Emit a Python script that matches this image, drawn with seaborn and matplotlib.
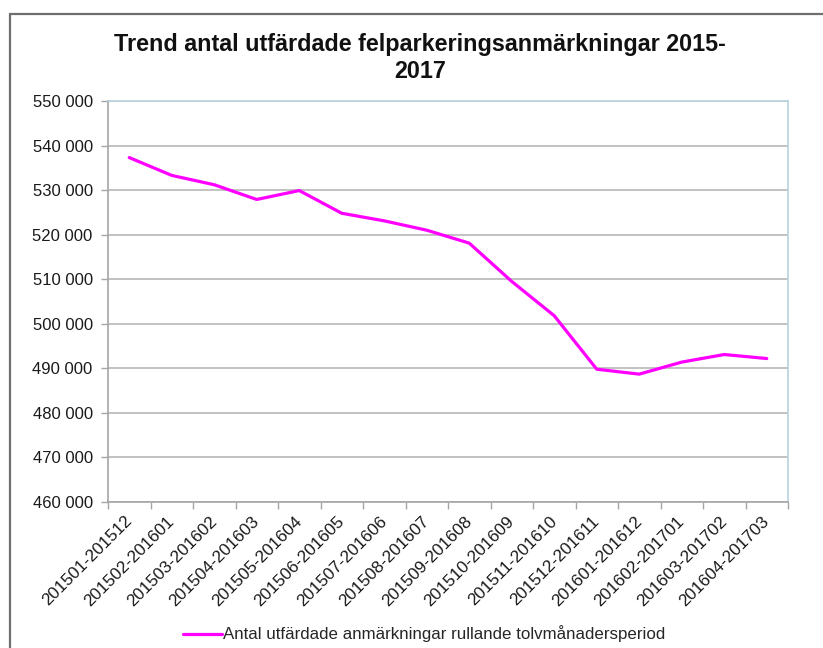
import matplotlib
matplotlib.use("Agg")
import matplotlib.pyplot as plt
from matplotlib.patches import Rectangle
from matplotlib.ticker import FuncFormatter, MultipleLocator
import pandas as pd
import seaborn as sns

periods = [
    "201501-201512", "201502-201601", "201503-201602", "201504-201603",
    "201505-201604", "201506-201605", "201507-201606", "201508-201607",
    "201509-201608", "201510-201609", "201511-201610", "201512-201611",
    "201601-201612", "201602-201701", "201603-201702", "201604-201703",
]
remarks = [
    537300, 533300, 531200, 527900, 529900, 524800, 523100, 521000,
    518100, 509500, 501800, 489800, 488700, 491400, 493100, 492200,
]
series_name = "Antal utfärdade anmärkningar rullande tolvmånadersperiod"
title = "Trend antal utfärdade felparkeringsanmärkningar 2015-\n2017"

sns.set_theme(style="white")
plt.rcParams["font.family"] = ["Liberation Sans", "DejaVu Sans"]

df = pd.DataFrame({"pos": range(len(periods)), "value": remarks,
                   "serie": series_name})

fig = plt.figure(figsize=(8.23, 6.48), dpi=100)
ax = fig.add_axes([108 / 823, 1 - 502 / 648, 680 / 823, 401 / 648])

sns.lineplot(data=df, x="pos", y="value", hue="serie",
             palette=["#ff00ff"], linewidth=2.3, ax=ax, legend=True)

ax.set_xlim(-0.5, len(periods) - 0.5)
ax.set_ylim(460000, 550000)
ax.yaxis.set_major_locator(MultipleLocator(10000))
ax.yaxis.set_major_formatter(
    FuncFormatter(lambda v, _: f"{int(v):,}".replace(",", " ")))
ax.grid(axis="y", color="#bdbdbd", linewidth=1.3)
ax.set_axisbelow(True)

ax.set_xticks(range(len(periods)))
ax.set_xticklabels(periods, rotation=45, ha="right", va="center",
                   rotation_mode="anchor", fontsize=12.3, color="#1a1a1a")
ax.set_xticks([i - 0.5 for i in range(len(periods) + 1)], minor=True)
ax.tick_params(axis="x", which="major", length=0, pad=12)
ax.tick_params(axis="x", which="minor", length=5, width=1, color="#a6a6a6",
               direction="out", bottom=True)
ax.tick_params(axis="y", length=5, width=1, color="#a6a6a6", direction="out",
               left=True, labelsize=12, labelcolor="#1a1a1a", pad=6)
ax.set_xlabel("")
ax.set_ylabel("")

for side in ("left", "bottom"):
    ax.spines[side].set_color("#a6a6a6")
    ax.spines[side].set_linewidth(1.2)
for side in ("top", "right"):
    ax.spines[side].set_color("#b7d3df")
    ax.spines[side].set_linewidth(1.2)

fig.text(420 / 823, 1 - 58 / 648, title, ha="center", va="center",
         fontsize=16.8, fontweight="bold", color="#111111", linespacing=1.25)

handles, labels = ax.get_legend_handles_labels()
ax.get_legend().remove()
fig.legend(handles, labels, loc="center", bbox_to_anchor=(424 / 823, 1 - 634 / 648),
           frameon=False, fontsize=12.2, handlelength=2.3, handletextpad=0.05,
           borderpad=0)

fig.add_artist(Rectangle((10 / 823, -0.05), 1.0, 1 - 14 / 648 + 0.05,
                         transform=fig.transFigure, fill=False,
                         edgecolor="#6e6e6e", linewidth=1.6))

fig.savefig("out.png", dpi=100)
